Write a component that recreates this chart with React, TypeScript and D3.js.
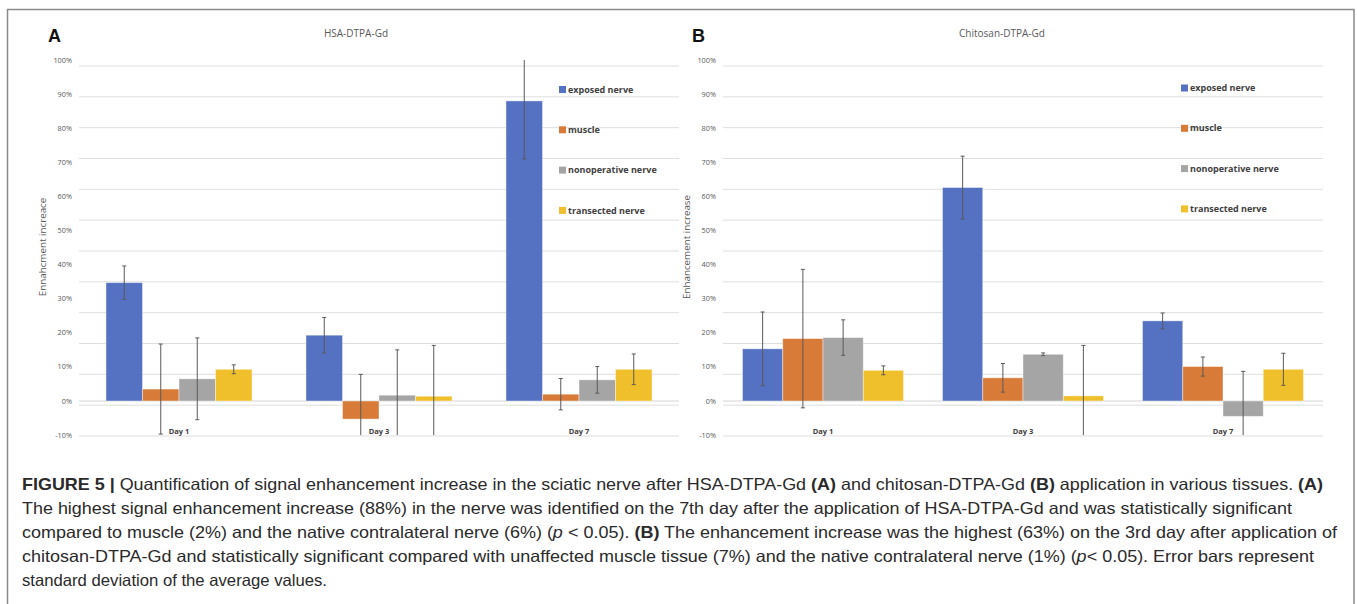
import React from 'react';
import * as d3 from 'd3';

// categories and series
const days = ['Day 1', 'Day 3', 'Day 7'];
const seriesNames = ['exposed nerve', 'muscle', 'nonoperative nerve', 'transected nerve'];
const seriesColors = ['#5471c2', '#d87b39', '#a5a5a5', '#f0bf2c'];
const yTicks = [-10, 0, 10, 20, 30, 40, 50, 60, 70, 80, 90, 100];

// A: HSA-DTPA-Gd, mean % per day
const hsaExposed = [34.7, 19.3, 88.0];
const hsaMuscle = [3.5, -5.3, 2.0];
const hsaNonop = [6.5, 1.7, 6.2];
const hsaTransected = [9.3, 1.4, 9.3];
// standard deviations
const hsaExposedSd = [4.9, 5.2, 17.0];
const hsaMuscleSd = [13.2, 13.1, 4.6];
const hsaNonopSd = [12.0, 13.3, 3.9];
const hsaTransectedSd = [1.3, 14.9, 4.5];

// B: Chitosan-DTPA-Gd
const chiExposed = [15.3, 62.6, 23.5];
const chiMuscle = [18.3, 6.8, 10.1];
const chiNonop = [18.6, 13.7, -4.5];
const chiTransected = [9.0, 1.5, 9.3];
const chiExposedSd = [10.8, 9.2, 2.3];
const chiMuscleSd = [20.3, 4.2, 2.8];
const chiNonopSd = [5.2, 0.4, 13.2];
const chiTransectedSd = [1.3, 14.8, 4.7];

const W = 1357, H = 604;
const tickColor = '#595959';

type PanelProps = {
  letter: string;
  title: string;
  yTitle: string;
  means: number[][];
  sds: number[][];
  left: number;
  pad: number;
  titleX: number;
  legendX: number;
  legendY: number;
};

const Panel = (p: PanelProps) => {
  const plotW = 600;
  // label scale (the bars follow it)
  const y = d3.scaleLinear().domain([0, 100]).range([401, 60]);
  // the gridlines in the original are drawn on a slightly stretched grid
  const grid = d3.scaleLinear().domain([-10, 110]).range([436, 66]);
  const x0 = d3.scaleBand().domain(days).range([p.left, p.left + plotW])
    .paddingInner(p.pad).paddingOuter(p.pad / 2);
  const x1 = d3.scaleBand().domain(seriesNames).range([0, x0.bandwidth()]);
  const clamp = (v: number) => Math.max(-10, Math.min(100, v));

  return (
    <g>
      <text x={p.left - 31} y={42} fontFamily="Liberation Sans, Arial" fontWeight="bold" fontSize={18} fill="#111">{p.letter}</text>
      <text x={p.titleX} y={37} textAnchor="middle" fontFamily="Open Sans, sans-serif" fontSize={10} fill={tickColor}>{p.title}</text>
      {d3.range(-10, 111, 10).map(v => (
        <line key={'g' + v} x1={p.left} x2={p.left + plotW} y1={grid(v)} y2={grid(v)} stroke="#dedede" strokeWidth={1} />
      ))}
      <line x1={p.left} x2={p.left + plotW} y1={y(0)} y2={y(0)} stroke="#d4d4d4" strokeWidth={1} />
      {yTicks.map(v => (
        <text key={'t' + v} x={p.left - 7} y={y(v)} dy="0.35em" textAnchor="end" fontFamily="Open Sans, sans-serif" fontSize={7.3} fill={tickColor}>{v + '%'}</text>
      ))}
      <text transform={`translate(${p.left - 33},${247}) rotate(-90)`} textAnchor="middle" fontFamily="Open Sans, sans-serif" fontSize={9.8} fill={tickColor}>{p.yTitle}</text>
      {days.map((d, i) => (
        <g key={d} transform={`translate(${x0(d)},0)`}>
          {seriesNames.map((s, j) => {
            const v = p.means[j][i];
            const sd = p.sds[j][i];
            const bx = x1(s) as number;
            const cx = bx + x1.bandwidth() / 2;
            const hi = v + sd, lo = v - sd;
            return (
              <g key={s}>
                <rect x={bx} width={x1.bandwidth()} y={Math.min(y(v), y(0))} height={Math.abs(y(v) - y(0))}
                  fill={seriesColors[j]} stroke="#ffffff" strokeOpacity={0.5} strokeWidth={0.8} />
                <line x1={cx} x2={cx} y1={y(clamp(hi))} y2={y(clamp(lo))} stroke="#5a5a5a" strokeWidth={1} />
                {hi <= 100 && <line x1={cx - 2} x2={cx + 2} y1={y(hi)} y2={y(hi)} stroke="#5a5a5a" strokeWidth={1} />}
                {lo >= -10 && <line x1={cx - 2} x2={cx + 2} y1={y(lo)} y2={y(lo)} stroke="#5a5a5a" strokeWidth={1} />}
              </g>
            );
          })}
          <text x={x0.bandwidth() / 2} y={434} textAnchor="middle" fontFamily="Open Sans, sans-serif" fontWeight="bold" fontSize={7.5} fill="#404040">{d}</text>
        </g>
      ))}
      {seriesNames.map((s, j) => (
        <g key={'l' + s} transform={`translate(${p.legendX},${p.legendY + j * 40.3})`}>
          <rect x={0} y={-3.5} width={7} height={7} fill={seriesColors[j]} />
          <text x={9} y={0} dy="0.35em" fontFamily="Open Sans, sans-serif" fontWeight="bold" fontSize={9} fill="#404040">{s}</text>
        </g>
      ))}
    </g>
  );
};

const capStyle = { fontFamily: 'Liberation Sans, Arial, sans-serif', fontSize: 16.5, fill: '#2a2a2a' };

export default function App() {
  return (
    <svg width={W} height={H} style={{ position: 'absolute', left: 0, top: 0, background: '#fff' }}>
      <rect x={7.5} y={9.5} width={1346.5} height={620} fill="#fff" stroke="#8a8a8a" strokeWidth={1.5} />
      <Panel letter="A" title="HSA-DTPA-Gd" yTitle="Ennahcment increace"
        means={[hsaExposed, hsaMuscle, hsaNonop, hsaTransected]}
        sds={[hsaExposedSd, hsaMuscleSd, hsaNonopSd, hsaTransectedSd]}
        left={79} pad={0.27} titleX={356} legendX={559} legendY={89.5} />
      <Panel letter="B" title="Chitosan-DTPA-Gd" yTitle="Enhancement increase"
        means={[chiExposed, chiMuscle, chiNonop, chiTransected]}
        sds={[chiExposedSd, chiMuscleSd, chiNonopSd, chiTransectedSd]}
        left={723} pad={0.195} titleX={1002} legendX={1181} legendY={88} />
      <g style={capStyle as any}>
        <text x={22} y={490} textLength={1301} lengthAdjust="spacingAndGlyphs">
          <tspan fontWeight="bold">FIGURE 5 |</tspan> Quantification of signal enhancement increase in the sciatic nerve after HSA-DTPA-Gd <tspan fontWeight="bold">(A)</tspan> and chitosan-DTPA-Gd <tspan fontWeight="bold">(B)</tspan> application in various tissues. <tspan fontWeight="bold">(A)</tspan>
        </text>
        <text x={22} y={514} textLength={1270} lengthAdjust="spacingAndGlyphs">
          The highest signal enhancement increase (88%) in the nerve was identified on the 7th day after the application of HSA-DTPA-Gd and was statistically significant
        </text>
        <text x={22} y={538} textLength={1315} lengthAdjust="spacingAndGlyphs">
          compared to muscle (2%) and the native contralateral nerve (6%) (<tspan fontStyle="italic">p</tspan> {'<'} 0.05). <tspan fontWeight="bold">(B)</tspan> The enhancement increase was the highest (63%) on the 3rd day after application of
        </text>
        <text x={22} y={562} textLength={1292} lengthAdjust="spacingAndGlyphs">
          chitosan-DTPA-Gd and statistically significant compared with unaffected muscle tissue (7%) and the native contralateral nerve (1%) (<tspan fontStyle="italic">p</tspan>{'<'} 0.05). Error bars represent
        </text>
        <text x={22} y={586} textLength={305} lengthAdjust="spacingAndGlyphs">
          standard deviation of the average values.
        </text>
      </g>
    </svg>
  );
}
